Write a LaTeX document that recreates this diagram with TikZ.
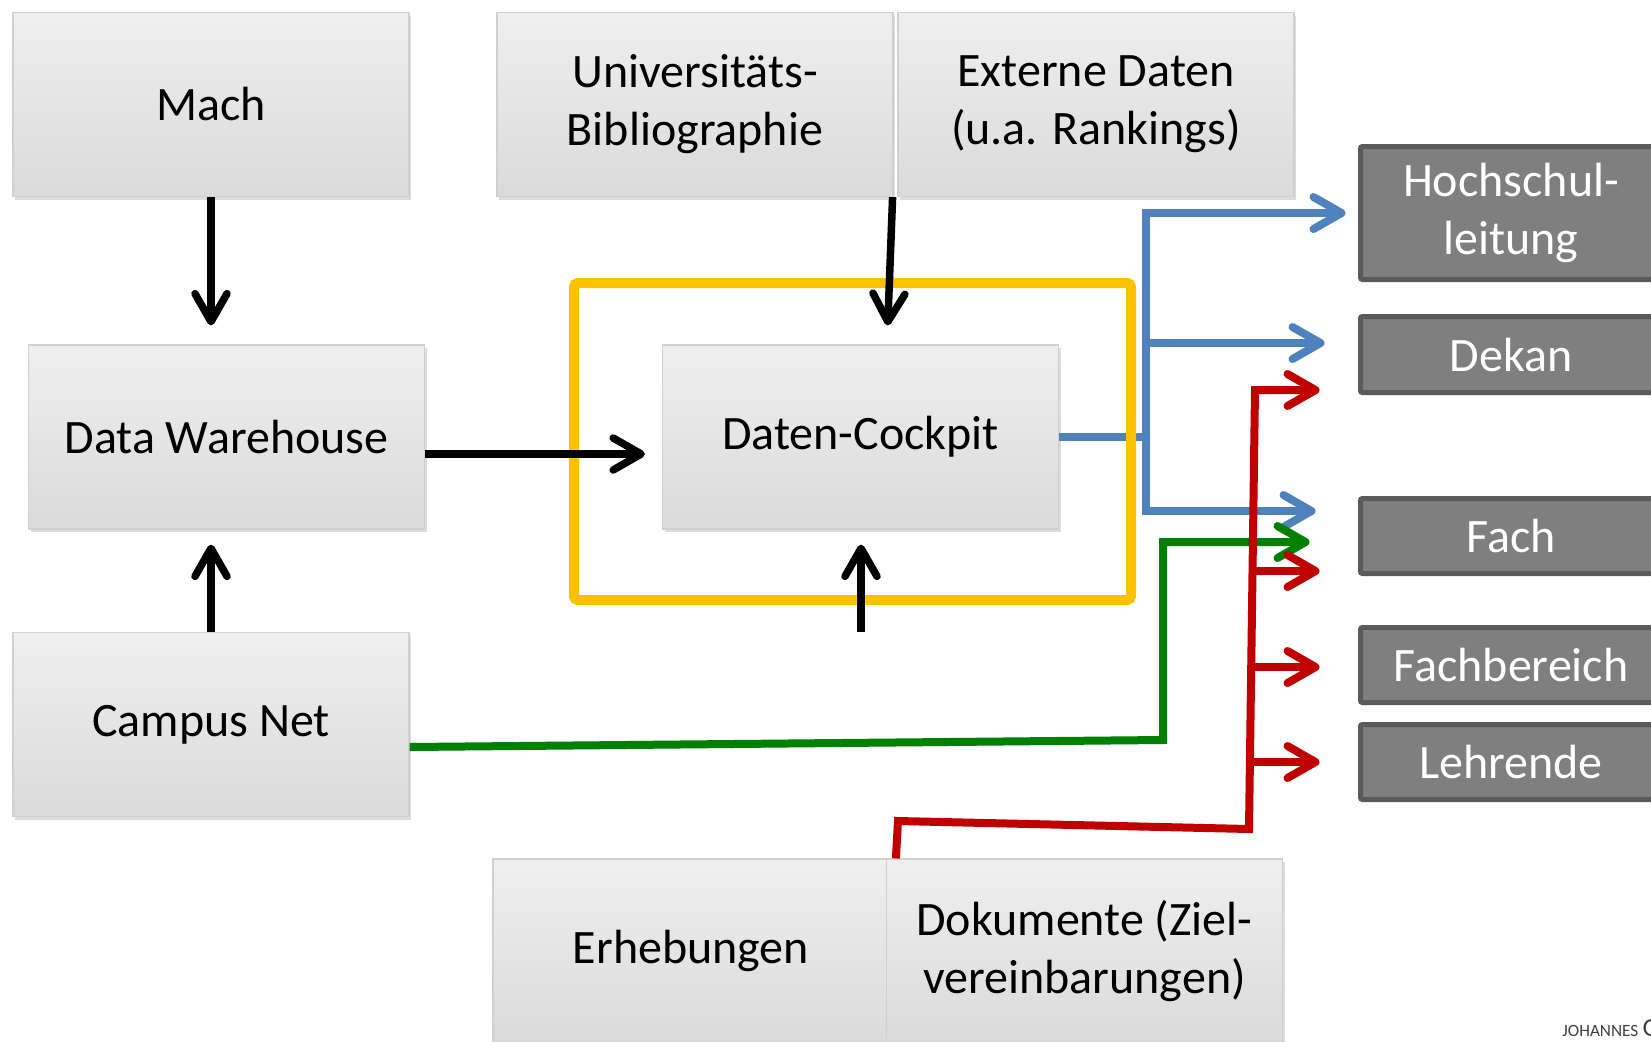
\documentclass[tikz,border=0pt]{standalone}
\usepackage{fontspec}
\setmainfont{Carlito}
\usetikzlibrary{arrows.meta,shadows,calc}
\definecolor{boxtop}{HTML}{EFEFEF}
\definecolor{boxbot}{HTML}{DADADA}
\definecolor{boxline}{HTML}{D0D0D0}
\definecolor{darkfill}{HTML}{7F7F7F}
\definecolor{darkline}{HTML}{5A5A5A}
\definecolor{cblue}{HTML}{4F81BD}
\definecolor{cgreen}{HTML}{008000}
\definecolor{cred}{HTML}{C00000}
\definecolor{cyellow}{HTML}{FFC000}
\definecolor{footgray}{HTML}{404040}
\begin{document}
\begin{tikzpicture}[x=0.5pt,y=-0.5pt,
  gbox/.style={draw=boxline, line width=0.6pt, top color=boxtop, bottom color=boxbot,
    minimum width=198pt, minimum height=92pt, align=center, inner sep=0pt,
    font=\fontsize{24}{29}\selectfont,
    drop shadow={opacity=0.28, shadow xshift=1pt, shadow yshift=-1.5pt}},
  dbox/.style={draw=darkline, fill=darkfill, line width=2.5pt, rounded corners=1pt,
    text=white, align=center, inner sep=0pt, minimum width=150.5pt,
    font=\fontsize{24}{29}\selectfont},
  tip/.style={-{Straight Barb[length=14pt,width=16pt,round]}},
  blk/.style={draw=black, line width=3.75pt, tip},
  bl/.style={draw=cblue, line width=4pt},
  gr/.style={draw=cgreen, line width=4pt},
  rd/.style={draw=cred, line width=4pt}]
\useasboundingbox (0,0) rectangle (1651,1041);
\clip (0,0) rectangle (1651,1041);

% grey source boxes
\node[gbox] (mach) at (211,104.5) {Mach};
\node[gbox] (univ) at (695,104.5) {Universitäts-\\Bibliographie};
\node[gbox] (ext) at (1096,104.5) {Externe Daten\\(u.a. Rankings)};
\node[gbox] (dw) at (226.5,437) {Data Warehouse};
\node[gbox] (cockpit) at (860.5,437) {Daten-Cockpit};
\node[gbox] (campus) at (211,724.5) {Campus Net};
\node[gbox] (erh) at (691,951) {Erhebungen};
\node[gbox] (dok) at (1084.5,951) {Dokumente (Ziel-\\vereinbarungen)};

% dark target boxes
\node[dbox, minimum height=66.5pt] (hoch) at (1511,213) {Hochschul-\\leitung};
\node[dbox, minimum height=38pt] (dekan) at (1511,354.5) {Dekan};
\node[dbox, minimum height=37.5pt] (fach) at (1511,536) {Fach};
\node[dbox, minimum height=37.5pt] (fb) at (1511,665) {Fachbereich};
\node[dbox, minimum height=37.5pt] (lehr) at (1511,762) {Lehrende};

% blue connectors
\coordinate (bT) at (1146,213);
\coordinate (bM) at (1146,437);
\coordinate (bD) at (1146,343);
\coordinate (bB) at (1146,511);
\draw[bl] (cockpit.east) -- (bM);
\draw[bl] ([yshift=2pt]bT) -- ([yshift=-2pt]bB);
\draw[bl, tip, shorten >=6.25pt] (bT) -- (bT -| hoch.west);
\draw[bl, tip, shorten >=16.75pt] (bD) -- (bD -| dekan.west);
\draw[bl, tip, shorten >=21.25pt] (bB) -- (bB -| fach.west);

% yellow frame
\node[draw=cyellow, line width=5pt, rounded corners=2pt, minimum width=278.5pt,
  minimum height=158.5pt, inner sep=0pt] (frame) at (852.5,441.5) {};

% green connector
\coordinate (g1) at (1163,740);
\coordinate (g2) at (1163,542);
\draw[gr, tip, shorten >=24.25pt] ([yshift=-11.25pt]campus.east) -- (g1) -- (g2) -- (g2 -| fach.west);

% red connectors
\coordinate (r0) at ([xshift=5pt]dok.north west);
\coordinate (r1) at (898,821);
\coordinate (r2) at (1249,829);
\coordinate (r3) at (1255,390);
\draw[rd, tip, shorten >=19.25pt] (r0) -- (r1) -- (r2) -- (r3) -- (r3 -| dekan.west);
\coordinate (rb1) at (1252.5,571);
\coordinate (rb2) at (1251.2,667);
\coordinate (rb3) at (1249.9,762);
\draw[rd, tip, shorten >=19.25pt] (rb1) -- (rb1 -| fach.west);
\draw[rd, tip, shorten >=19.25pt] (rb2) -- (rb2 -| fb.west);
\draw[rd, tip, shorten >=19.25pt] (rb3) -- (rb3 -| lehr.west);

% black arrows
\draw[blk, shorten >=9.5pt] (mach.south) -- (mach.south |- dw.north);
\draw[blk, shorten >=7.5pt] (campus.north) -- (campus.north |- dw.south);
\draw[blk, shorten >=8.5pt] ([yshift=-8.5pt]dw.east) -- ([yshift=-8.5pt]cockpit.west);
\draw[blk, shorten >=9.5pt] ([xshift=-0.5pt]univ.south east) -- ([xshift=13.25pt]cockpit.north);
\coordinate (cin) at (861,632);
\draw[blk, shorten >=7.5pt] (cin) -- (cin |- cockpit.south);

% footer
\node[anchor=base west, inner sep=0pt, text=footgray, font=\fontsize{8.6}{9}\selectfont] (foot) at (1562,1036)
  {JOHANNES\hspace{2.2pt}{\fontsize{13}{13}\selectfont G}};
\end{tikzpicture}
\end{document}
